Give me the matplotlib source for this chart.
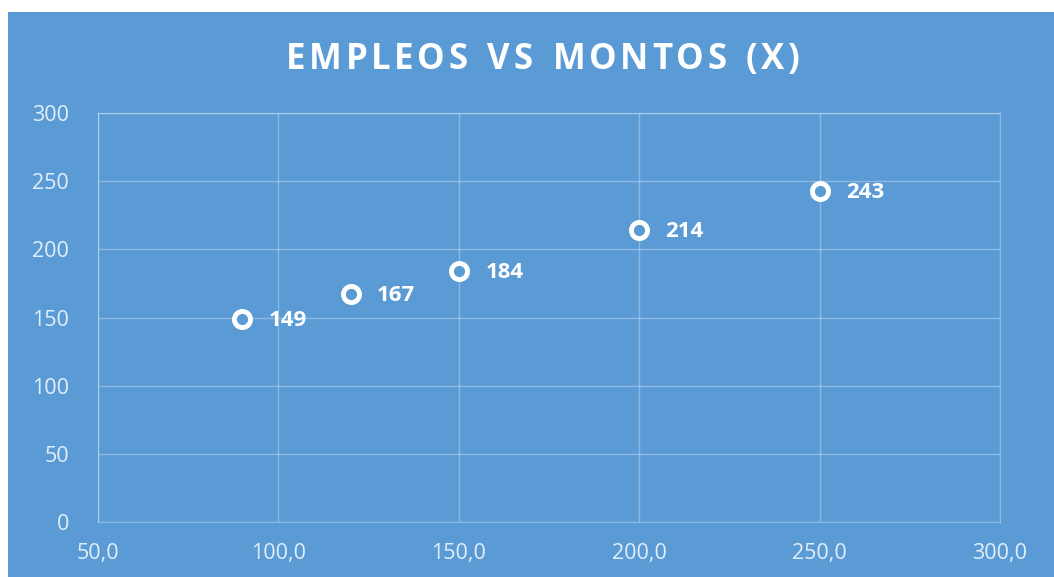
import matplotlib.pyplot as plt
from matplotlib.patches import Rectangle
from matplotlib.ticker import FuncFormatter

montos = [90, 120, 150, 200, 250]
empleos = [149, 167, 184, 214, 243]
title = "EMPLEOS VS MONTOS (X)"

bg = "#5B9BD5"
tick_col = "#E2EEF9"

fig = plt.figure(figsize=(10.54, 5.77), dpi=100)
fig.patch.set_facecolor("white")
# blue chart area (white margin at top and left)
fig.patches.append(Rectangle((8 / 1054, 0), 1 - 8 / 1054, 1 - 12 / 577,
                             transform=fig.transFigure, facecolor=bg,
                             edgecolor="none", zorder=-10))

ax = fig.add_axes([98 / 1054, 1 - 522 / 577, 902 / 1054, 409 / 577])
ax.set_facecolor(bg)

ax.scatter(montos, empleos, s=135, facecolor=bg, edgecolor="white",
           linewidth=3.5, zorder=3)
for x, y in zip(montos, empleos):
    ax.annotate(str(y), (x, y), xytext=(19, -1), textcoords="offset points",
                va="center", ha="left", color="white", fontsize=16,
                fontweight="bold", family="Open Sans")

ax.set_xlim(50, 300)
ax.set_ylim(0, 300)
ax.set_xticks(range(50, 301, 50))
ax.set_yticks(range(0, 301, 50))
ax.xaxis.set_major_formatter(FuncFormatter(lambda v, p: f"{v:.1f}".replace(".", ",")))
ax.grid(True, color="white", alpha=0.3, linewidth=1)
ax.set_axisbelow(True)
for s in ax.spines.values():
    s.set_color((1, 1, 1, 0.3))
ax.tick_params(length=0, colors=tick_col, labelsize=15.5)
ax.tick_params(axis="x", pad=15)
ax.tick_params(axis="y", pad=21)
for lab in ax.get_xticklabels() + ax.get_yticklabels():
    lab.set_family("Open Sans")
for lab in ax.get_yticklabels():
    lab.set_horizontalalignment("right")

# title with letter spacing, laid out char by char
r = fig.canvas.get_renderer()
spacing = 3.6
kw = dict(color="white", fontsize=25, fontweight="bold", family="Open Sans",
          va="center", ha="left")
widths = []
for ch in title:
    t = fig.text(0, 0, ch if ch != " " else "a", **kw)
    w = t.get_window_extent(r).width
    if ch == " ":
        w *= 0.6
    widths.append(w)
    t.remove()
total = sum(widths) + spacing * (len(title) - 1)
x0 = 543 - total / 2
for ch, w in zip(title, widths):
    if ch != " ":
        fig.text(x0 / 1054, 1 - 60 / 577, ch, **kw)
    x0 += w + spacing

fig.savefig("out.png", dpi=100, facecolor=fig.get_facecolor())
